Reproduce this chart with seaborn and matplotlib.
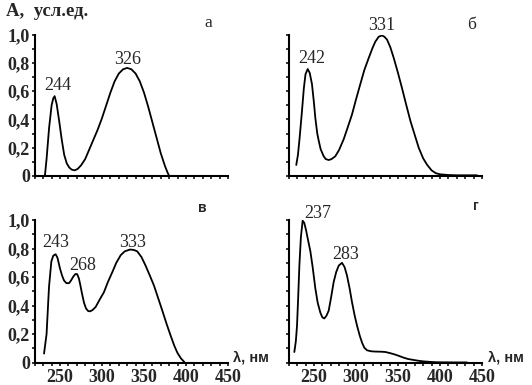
import numpy as np
import pandas as pd
import matplotlib
matplotlib.use("Agg")
import matplotlib.pyplot as plt
from matplotlib.ticker import MultipleLocator
import seaborn as sns

# ============================
# Data (wavelength, nm / absorbance)
# ============================

wl_a = [232, 234, 237, 240, 242, 243.6, 246, 249, 252, 255, 258, 261, 264, 267.5,
        271, 275, 280, 285, 290, 295, 300, 305, 310, 315, 320, 325, 330, 335,
        340, 345, 350, 355, 360, 365, 370, 375, 378, 380]
abs_a = [0.0, 0.12, 0.34, 0.50, 0.55, 0.565, 0.51, 0.39, 0.26, 0.15, 0.09, 0.06, 0.045, 0.04,
         0.05, 0.075, 0.12, 0.19, 0.26, 0.33, 0.41, 0.50, 0.59, 0.67, 0.725, 0.755, 0.765, 0.755,
         0.725, 0.67, 0.59, 0.49, 0.38, 0.27, 0.16, 0.07, 0.025, 0.0]

wl_b = [229, 231, 233, 235.8, 238, 240, 242.6, 245, 247.7, 250, 251.7, 254, 255.7, 258,
        261.6, 264, 267.6, 271, 275.5, 280, 285.4, 290, 295.3, 300, 305.2, 310, 315.2,
        320, 323, 327, 331, 334, 337, 341, 345, 350, 354.9, 360, 364.8, 370, 374.7,
        380, 384.6, 390, 395, 400, 410, 420, 444]
abs_b = [0.078, 0.15, 0.27, 0.46, 0.62, 0.72, 0.757, 0.73, 0.65, 0.52, 0.41, 0.30, 0.25, 0.19,
         0.14, 0.12, 0.113, 0.12, 0.14, 0.185, 0.26, 0.34, 0.435, 0.54, 0.65, 0.75, 0.835,
         0.91, 0.95, 0.985, 0.995, 0.985, 0.965, 0.91, 0.835, 0.73, 0.62, 0.50, 0.39, 0.29, 0.20,
         0.125, 0.08, 0.04, 0.02, 0.012, 0.007, 0.005, 0.005]

wl_c = [231, 234, 236.9, 239.7, 242, 244.8, 247, 250, 252.5, 254.8, 257.5, 260.7, 263, 266,
        268.5, 270.5, 272.5, 274, 276, 278.6, 281, 283.5, 285.7, 288.5, 292.4, 297, 302.3,
        307, 312.3, 317, 322.2, 327, 333.3, 338, 342, 347, 351.9, 357, 361.9, 367, 371.8,
        377, 381.7, 386, 389.7, 394, 398]
abs_c = [0.064, 0.2, 0.53, 0.71, 0.75, 0.76, 0.735, 0.66, 0.61, 0.576, 0.558, 0.557, 0.575, 0.605,
         0.622, 0.62, 0.59, 0.55, 0.49, 0.42, 0.38, 0.362, 0.36, 0.368, 0.39, 0.44, 0.494,
         0.565, 0.635, 0.70, 0.753, 0.78, 0.793, 0.79, 0.78, 0.74, 0.68, 0.61, 0.54, 0.45, 0.365,
         0.27, 0.19, 0.12, 0.07, 0.03, 0.005]

wl_d = [226.7, 228.5, 229.9, 231.3, 232.7, 234.5, 236.6, 238.5, 240.6, 243, 245.8, 248.5,
        251.7, 254.5, 257.7, 260, 262.4, 265, 267.6, 270.5, 273.5, 276.5, 279.5, 283.4,
        286.5, 289.4, 292.5, 295.3, 298.5, 301.3, 304.5, 307.3, 310, 313.2, 318, 323.1,
        330, 335, 340, 345, 351, 356.9, 362, 368.8, 375, 380.7, 390, 396.6, 416, 432]
abs_d = [0.075, 0.15, 0.26, 0.46, 0.68, 0.88, 0.995, 0.98, 0.93, 0.86, 0.78, 0.67,
         0.52, 0.42, 0.35, 0.318, 0.31, 0.33, 0.365, 0.46, 0.565, 0.635, 0.68, 0.70,
         0.67, 0.61, 0.52, 0.425, 0.33, 0.26, 0.19, 0.14, 0.105, 0.087, 0.08, 0.078,
         0.077, 0.075, 0.068, 0.06, 0.048, 0.035, 0.026, 0.019, 0.013, 0.009, 0.005, 0.003, 0.002, 0.002]

peaks_a = [244, 326]
peaks_b = [242, 331]
peaks_c = [243, 268, 333]
peaks_d = [237, 283]

panel_names = ['а', 'б', 'в', 'г']
y_ticks = [0, 0.2, 0.4, 0.6, 0.8, 1.0]
y_ticklabels = ['0', '0,2', '0,4', '0,6', '0,8', '1,0']
x_ticks = [250, 300, 350, 400, 450]

# label offsets in pixels (dx, dy) relative to each peak top
label_offsets = {
    244: (3, 6), 326: (0, 4),
    242: (4, 6), 331: (0, 5),
    243: (0, 7), 268: (7, 4), 333: (3, 3),
    237: (15, 3), 283: (4, 4),
}

# ============================
# Figure
# ============================

sns.set_theme(style='white')
plt.rcParams['font.family'] = ['Liberation Serif', 'DejaVu Serif']

fig = plt.figure(figsize=(5.32, 3.85), dpi=100)

W, H = 532, 385
def axes_box(x0, x1, ytop, ybot):
    return [x0 / W, 1 - ybot / H, (x1 - x0) / W, (ybot - ytop) / H]

boxes = [
    axes_box(34.8, 228, 34.7, 176),
    axes_box(288.7, 482, 34.7, 176),
    axes_box(34.8, 228, 220, 362.7),
    axes_box(288.7, 482, 220, 362.7),
]
panels = [
    (wl_a, abs_a, peaks_a),
    (wl_b, abs_b, peaks_b),
    (wl_c, abs_c, peaks_c),
    (wl_d, abs_d, peaks_d),
]

for i, (box, (wl, ab, peaks)) in enumerate(zip(boxes, panels)):
    ax = fig.add_axes(box)
    df = pd.DataFrame({'wl': wl, 'A': ab})
    sns.lineplot(data=df, x='wl', y='A', ax=ax, color='black', linewidth=1.3,
                 estimator=None, sort=False)
    ax.set_xlim(220, 450)
    ax.set_ylim(0, 1.0)
    ax.set_xlabel('')
    ax.set_ylabel('')
    for side in ['top', 'right']:
        ax.spines[side].set_visible(False)
    for side in ['left', 'bottom']:
        ax.spines[side].set_color('black')
        ax.spines[side].set_linewidth(1.5)
    ax.set_facecolor('none')

    ax.set_xticks(x_ticks)
    ax.xaxis.set_minor_locator(MultipleLocator(10))
    ax.set_yticks(y_ticks)
    ax.yaxis.set_minor_locator(MultipleLocator(0.1))
    ax.tick_params(which='both', direction='out', length=2.5, width=1.1, color='black',
                   bottom=True, left=True)
    ax.tick_params(axis='x', which='major', pad=2)
    ax.tick_params(axis='y', which='major', pad=1)

    if i % 2 == 0:
        ax.set_yticklabels(y_ticklabels, fontsize=13, fontweight='bold')
    else:
        ax.set_yticklabels([])
    if i >= 2:
        ax.set_xticklabels([str(t) for t in x_ticks], fontsize=13, fontweight='bold')
    else:
        ax.set_xticklabels([])

    # peak labels at local maxima of the curve near the quoted wavelength
    wl_arr = np.array(wl)
    ab_arr = np.array(ab)
    for p in peaks:
        near = np.abs(wl_arr - p) <= 8
        k = np.argmax(np.where(near, ab_arr, -1))
        dx, dy = label_offsets[p]
        ax.annotate(str(p), xy=(wl_arr[k], ab_arr[k]), xytext=(dx, dy),
                    textcoords='offset pixels', ha='center', va='baseline',
                    fontsize=13, annotation_clip=False)

# panel letters
fig.text(208 / W, 1 - 23 / H, panel_names[0], ha='center', va='center', fontsize=12.5)
fig.text(472 / W, 1 - 25 / H, panel_names[1], ha='center', va='center', fontsize=12.5)
fig.text(202 / W, 1 - 208 / H, panel_names[2], ha='center', va='center', fontsize=10,
         fontweight='bold', family=['Liberation Sans', 'DejaVu Sans'])
fig.text(476 / W, 1 - 206 / H, panel_names[3], ha='center', va='center', fontsize=10,
         fontweight='bold', family=['Liberation Sans', 'DejaVu Sans'])

# axis titles
fig.text(6 / W, 1 - 12 / H, 'A,  усл.ед.', ha='left', va='center', fontsize=13.5,
         fontweight='bold')
fig.text(233 / W, 1 - 357 / H, 'λ, нм', ha='left', va='center', fontsize=10.5,
         fontweight='bold', family=['Liberation Sans', 'DejaVu Sans'])
fig.text(488 / W, 1 - 357 / H, 'λ, нм', ha='left', va='center', fontsize=10.5,
         fontweight='bold', family=['Liberation Sans', 'DejaVu Sans'])

fig.savefig('out.png', dpi=100, facecolor='white')
